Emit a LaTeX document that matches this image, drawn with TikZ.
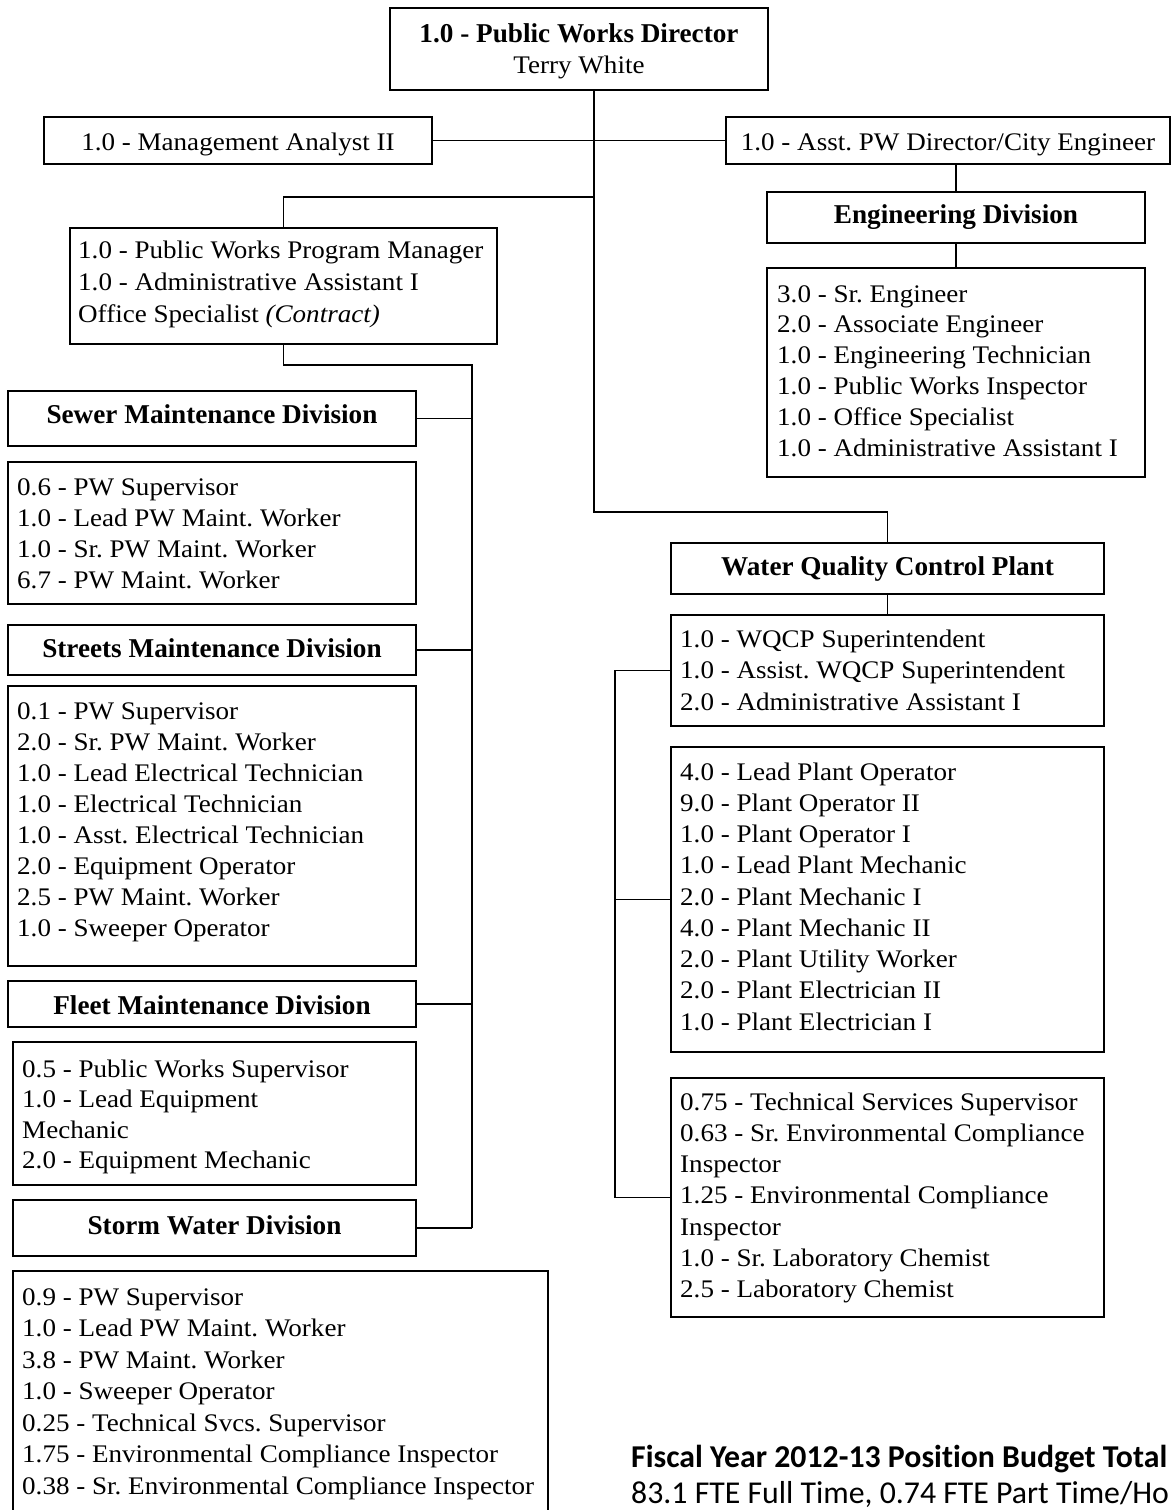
\documentclass[tikz,border=0pt]{standalone}
\usepackage{fontspec}
\setmainfont{Liberation Serif}[FakeStretch=1.07]
\newfontfamily\headfont{Liberation Serif}
\newfontfamily\notefont{Carlito}[Ligatures={NoCommon}]
\frenchspacing
% box from its corner coordinates: name, x1, y1, x2, y2
\newcommand\orgbox[5]{\node[box, minimum width={(#4)-(#2)}, minimum height={(#5)-(#3)}] (#1) at ({((#2)+(#4))/2},{((#3)+(#5))/2}) {};}
\begin{document}
\begin{tikzpicture}[x=1pt,y=-1pt,
  box/.style={draw, line width=1.9pt, rectangle, inner sep=0pt, outer sep=0pt},
  link/.style={line width=1.9pt},
  item/.style={anchor=base west, inner sep=0pt, font=\fontsize{25.3}{30}\selectfont},
  plain/.style={anchor=base, inner sep=0pt, font=\fontsize{25.3}{30}\selectfont},
  head/.style={anchor=base, inner sep=0pt, font=\headfont\bfseries\fontsize{27.2}{32}\selectfont},
  note/.style={anchor=base west, inner sep=0pt, font=\notefont\fontsize{31.8}{38}\selectfont}]
\useasboundingbox (0,0) rectangle (1173,1510);
\clip (0,0) rectangle (1173,1510);

% ---- boxes ----
\orgbox{dir}{390}{8}{768}{90}
\orgbox{mgmt}{44}{117}{432}{164}
\orgbox{asst}{726}{117}{1170}{164}
\orgbox{eng}{767}{192}{1145}{243}
\orgbox{englist}{767}{268}{1145}{477}
\orgbox{pm}{70}{228}{497}{344}
\orgbox{sewer}{8}{391}{416}{446}
\orgbox{sewerlist}{8}{462}{416}{604}
\orgbox{streets}{8}{625}{416}{675}
\orgbox{streetslist}{8}{686}{416}{966}
\orgbox{fleet}{8}{981}{416}{1027}
\orgbox{fleetlist}{13}{1042}{416}{1185}
\orgbox{storm}{13}{1200}{416}{1256}
\orgbox{stormlist}{13}{1271}{548}{1530}
\orgbox{wqcp}{671}{543}{1104}{594}
\orgbox{wq1}{671}{615}{1104}{726}
\orgbox{wq2}{671}{747}{1104}{1052}
\orgbox{wq3}{671}{1078}{1104}{1317}

% ---- connectors ----
\coordinate (trunkTurn) at (594,512);
\coordinate (pmJoin) at (594,197);
\coordinate (bus) at (472,365);
\coordinate (brk) at (615,671);
\draw[link] (dir.south -| trunkTurn) -- (trunkTurn) -| (wqcp.north);
\draw[link] (mgmt.east) -- (asst.west);
\draw[link] (asst.south -| eng.north) -- (eng.north);
\draw[link] (eng.south) -- (englist.north);
\draw[link] (pmJoin) -| (pm.north);
\draw[link] (pm.south) |- (bus) -- (bus |- storm.east);
\foreach \d in {sewer,streets,fleet,storm}
  \draw[link] (\d.east) -- (\d.east -| bus);
\draw[link] (wqcp.south) -- (wq1.north);
\draw[link] (wq1.west) -| (brk |- wq3.west) -- (wq3.west);
\draw[link] (wq2.west) -- (wq2.west -| brk);

% ---- titles ----
\node[head] (dirT) at (579,42) {1.0 - Public Works Director};
\node[plain] (dirN) at (579,73) {Terry White};
\node[plain] (mgmtT) at (238,150) {1.0 - Management Analyst II};
\node[plain] (asstT) at (948,150) {1.0 - Asst. PW Director/City Engineer};
\node[head] (engT) at (956,223) {Engineering Division};
\node[head] (sewerT) at (212,423) {Sewer Maintenance Division};
\node[head] (streetsT) at (212,657) {Streets Maintenance Division};
\node[head] (fleetT) at (212,1014) {Fleet Maintenance Division};
\node[head] (stormT) at (214.5,1234) {Storm Water Division};
\node[head] (wqcpT) at (887.5,575) {Water Quality Control Plant};

% ---- position lists ----
\foreach \t [count=\i from 0] in {3.0 - Sr. Engineer, 2.0 - Associate Engineer,
  1.0 - Engineering Technician, 1.0 - Public Works Inspector,
  1.0 - Office Specialist, 1.0 - Administrative Assistant I}
  \node[item] (eng-\i) at (777,{302+\i*30.8}) {\t};

\foreach \t [count=\i from 0] in {1.0 - Public Works Program Manager,
  1.0 - Administrative Assistant I, Office Specialist \textit{(Contract)}}
  \node[item] (pm-\i) at (78,{258+\i*32}) {\t};

\foreach \t [count=\i from 0] in {0.6 - PW Supervisor, 1.0 - Lead PW Maint. Worker,
  1.0 - Sr. PW Maint. Worker, 6.7 - PW Maint. Worker}
  \node[item] (sewer-\i) at (17,{495+\i*31}) {\t};

\foreach \t [count=\i from 0] in {0.1 - PW Supervisor, 2.0 - Sr. PW Maint. Worker,
  1.0 - Lead Electrical Technician, 1.0 - Electrical Technician,
  1.0 - Asst. Electrical Technician, 2.0 - Equipment Operator,
  2.5 - PW Maint. Worker, 1.0 - Sweeper Operator}
  \node[item] (streets-\i) at (17,{719+\i*31.1}) {\t};

\foreach \t [count=\i from 0] in {0.5 - Public Works Supervisor, 1.0 - Lead Equipment,
  Mechanic, 2.0 - Equipment Mechanic}
  \node[item] (fleet-\i) at (22,{1077+\i*30.5}) {\t};

\foreach \t [count=\i from 0] in {0.9 - PW Supervisor, 1.0 - Lead PW Maint. Worker,
  3.8 - PW Maint. Worker, 1.0 - Sweeper Operator,
  0.25 - Technical Svcs. Supervisor, 1.75 - Environmental Compliance Inspector,
  0.38 - Sr. Environmental Compliance Inspector}
  \node[item] (storm-\i) at (22,{1305+\i*31.5}) {\t};

\foreach \t [count=\i from 0] in {1.0 - WQCP Superintendent,
  1.0 - Assist. WQCP Superintendent, 2.0 - Administrative Assistant I}
  \node[item] (wq1-\i) at (680,{647+\i*31.5}) {\t};

\foreach \t [count=\i from 0] in {4.0 - Lead Plant Operator, 9.0 - Plant Operator II,
  1.0 - Plant Operator I, 1.0 - Lead Plant Mechanic, 2.0 - Plant Mechanic I,
  4.0 - Plant Mechanic II, 2.0 - Plant Utility Worker,
  2.0 - Plant Electrician II, 1.0 - Plant Electrician I}
  \node[item] (wq2-\i) at (680,{780+\i*31.25}) {\t};

\foreach \t [count=\i from 0] in {0.75 - Technical Services Supervisor,
  0.63 - Sr. Environmental Compliance, Inspector,
  1.25 - Environmental Compliance, Inspector,
  1.0 - Sr. Laboratory Chemist, 2.5 - Laboratory Chemist}
  \node[item] (wq3-\i) at (680,{1110+\i*31.3}) {\t};

% ---- budget note ----
\node[note, font=\notefont\bfseries\fontsize{31.8}{38}\selectfont] (noteT) at (631,1467)
  {Fiscal Year 2012-13 Position Budget Total};
\node[note] (noteB) at (631,1503) {83.1 FTE Full Time, 0.74 FTE Part Time/Ho};
\end{tikzpicture}
\end{document}
